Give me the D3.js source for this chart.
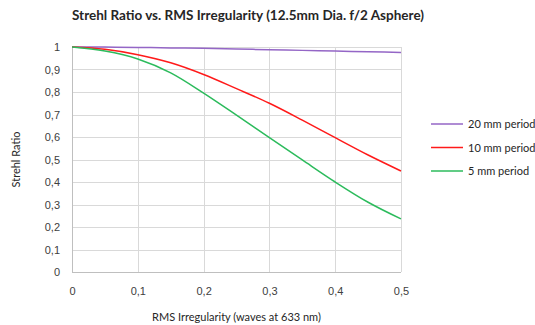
<!DOCTYPE html>
<html>
<head>
<meta charset="utf-8">
<script src="https://cdn.jsdelivr.net/npm/d3@7"></script>
<style>
  body { margin: 0; background: #fff; }
  svg { font-family: Lato, "Open Sans", sans-serif; }
  .grid line { stroke: #d9d9d9; stroke-width: 1; }
  .axis text { fill: #404040; font-size: 11px; }
</style>
</head>
<body>
<div id="chart"></div>
<script>
// ------------------------------------------
//  Data
// ------------------------------------------
const rms = [0, 0.05, 0.1, 0.15, 0.2, 0.25, 0.3, 0.35, 0.4, 0.45, 0.5]
const period20 = [1, 0.9995, 0.998, 0.996, 0.994, 0.991, 0.988, 0.985, 0.982, 0.979, 0.976]
const period10 = [1, 0.99, 0.966, 0.93, 0.878, 0.815, 0.75, 0.675, 0.597, 0.52, 0.449]
const period5 = [1, 0.982, 0.947, 0.885, 0.795, 0.697, 0.597, 0.498, 0.4, 0.31, 0.236]
const seriesNames = ['20 mm period', '10 mm period', '5 mm period']
const seriesColors = ['#9466c6', '#ff1a1a', '#2cbb5c']
const xTicks = [0, 0.1, 0.2, 0.3, 0.4, 0.5]
const yTicks = [0, 0.1, 0.2, 0.3, 0.4, 0.5, 0.6, 0.7, 0.8, 0.9, 1]

const W = 535, H = 325
const margin = { top: 47, right: 134, bottom: 53, left: 72 }
const width = W - margin.left - margin.right
const height = H - margin.top - margin.bottom

const fmt = d => d === 0 ? '0' : d === 1 ? '1' : d3.format('.1f')(d).replace('.', ',')

const svg = d3.select('#chart').append('svg').attr('width', W).attr('height', H)
const g = svg.append('g').attr('transform', `translate(${margin.left},${margin.top})`)

const x = d3.scaleLinear().domain([0, 0.5]).range([0, width])
const y = d3.scaleLinear().domain([0, 1]).range([height, 0])

// gridlines
g.append('g').attr('class', 'grid')
  .selectAll('line').data(yTicks).enter().append('line')
  .attr('x1', 0).attr('x2', width)
  .attr('y1', d => Math.round(y(d)) + 0.5).attr('y2', d => Math.round(y(d)) + 0.5)

g.append('g').attr('class', 'grid')
  .selectAll('line').data(xTicks).enter().append('line')
  .attr('y1', 0).attr('y2', height)
  .attr('x1', d => Math.round(x(d)) + 0.5).attr('x2', d => Math.round(x(d)) + 0.5)

// axes (labels only, lines drawn as gray)
const yAxis = g.append('g').attr('class', 'axis')
  .attr('transform', 'translate(-9,0)')
  .call(d3.axisLeft(y).tickValues(yTicks).tickFormat(fmt).tickSize(0))
yAxis.select('.domain').remove()

const xAxis = g.append('g').attr('class', 'axis')
  .attr('transform', `translate(0,${height + 12})`)
  .call(d3.axisBottom(x).tickValues(xTicks).tickFormat(fmt).tickSize(0))
xAxis.select('.domain').remove()

g.append('line').attr('x1', 0.5).attr('x2', 0.5).attr('y1', 0).attr('y2', height + 0.5)
  .attr('stroke', '#bfbfbf')
g.append('line').attr('x1', 0).attr('x2', width).attr('y1', height + 0.5).attr('y2', height + 0.5)
  .attr('stroke', '#bfbfbf')

// series
const line = d3.line().x((d, i) => x(rms[i])).y(d => y(d)).curve(d3.curveMonotoneX)
const all = [period20, period10, period5]
all.forEach((s, i) => {
  g.append('path').datum(s)
    .attr('fill', 'none')
    .attr('stroke', seriesColors[i])
    .attr('stroke-width', 1.5)
    .attr('d', line)
})

// titles
svg.append('text')
  .attr('x', 248).attr('y', 20)
  .attr('text-anchor', 'middle')
  .attr('font-size', 13.5).attr('font-weight', 'bold').attr('fill', '#262626')
  .text('Strehl Ratio vs. RMS Irregularity (12.5mm Dia. f/2 Asphere)')

svg.append('text')
  .attr('x', margin.left + width / 2).attr('y', 321)
  .attr('text-anchor', 'middle').attr('font-size', 11).attr('fill', '#262626')
  .text('RMS Irregularity (waves at 633 nm)')

svg.append('text')
  .attr('transform', `translate(20,${margin.top + height / 2}) rotate(-90)`)
  .attr('text-anchor', 'middle').attr('font-size', 11).attr('fill', '#262626')
  .text('Strehl Ratio')

// legend
const legend = svg.append('g').attr('transform', 'translate(431,124)')
seriesNames.forEach((name, i) => {
  const row = legend.append('g').attr('transform', `translate(0,${i * 23.5})`)
  row.append('line').attr('x1', 0).attr('x2', 32).attr('y1', 0).attr('y2', 0)
    .attr('stroke', seriesColors[i]).attr('stroke-width', 1.5)
  row.append('text').attr('x', 37).attr('y', 4)
    .attr('font-size', 11).attr('fill', '#262626')
    .text(name)
})
</script>
</body>
</html>
